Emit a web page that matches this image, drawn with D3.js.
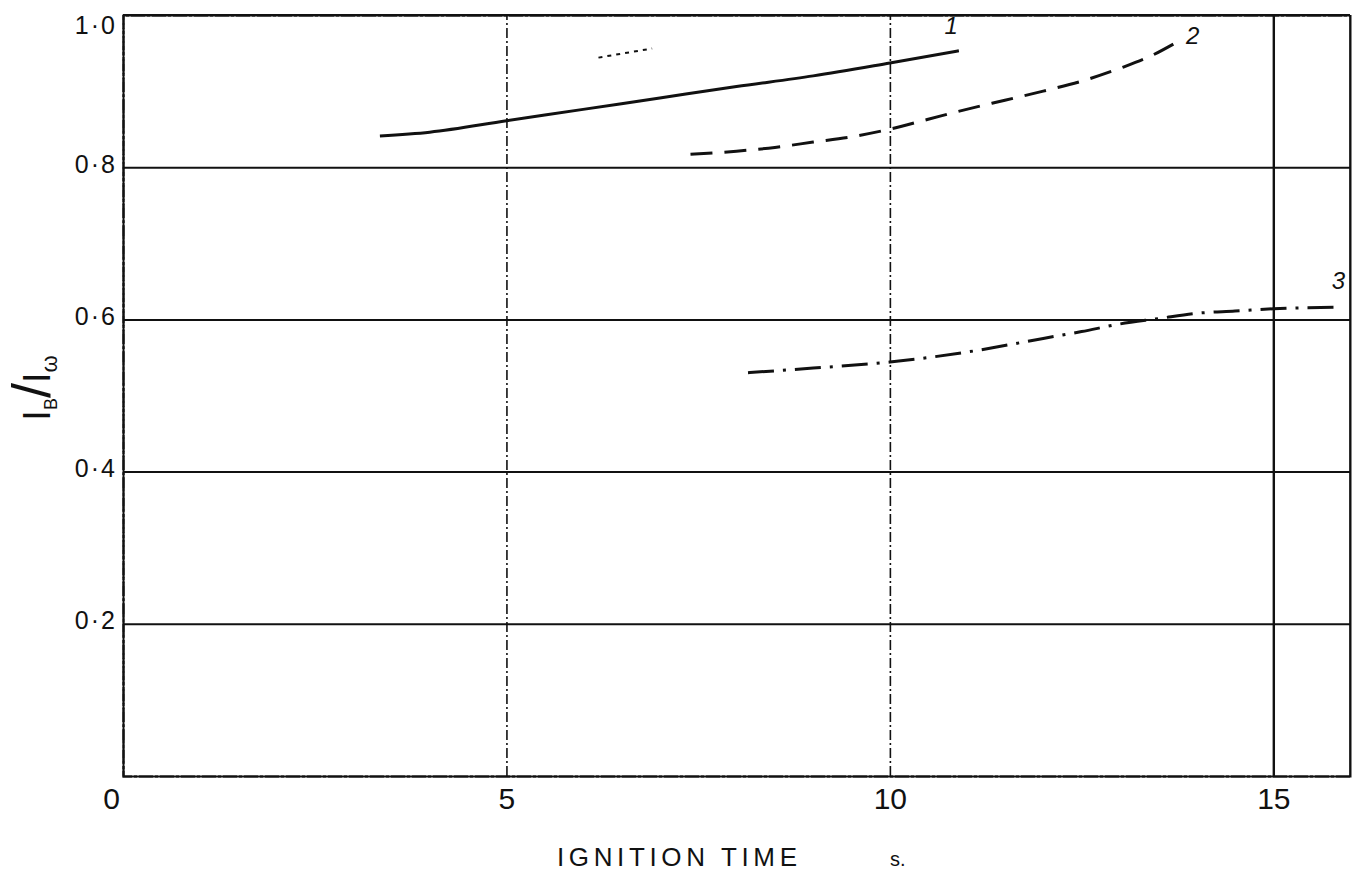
<!DOCTYPE html>
<html>
<head>
<meta charset="utf-8">
<script src="https://cdnjs.cloudflare.com/ajax/libs/d3/7.8.5/d3.min.js"></script>
<style>
  html, body { margin: 0; padding: 0; background: #fff; }
  svg { display: block; }
  text { font-family: "Liberation Sans", "DejaVu Sans", sans-serif; fill: #111; }
</style>
</head>
<body>
<svg id="chart" width="1358" height="877"></svg>
<script>
// values
const xTicks = [0, 5, 10, 15]
const yTicks = [0.2, 0.4, 0.6, 0.8, 1.0]

const curve1 = [[3.35, 0.841], [4, 0.846], [5, 0.861], [6, 0.876], [7, 0.891], [8, 0.906], [9, 0.920], [10, 0.937], [10.9, 0.953]]
const curve2 = [[7.4, 0.817], [8, 0.821], [8.5, 0.826], [9, 0.833], [9.5, 0.840], [10, 0.850], [10.5, 0.863], [11, 0.876], [11.5, 0.888], [12, 0.900], [12.5, 0.913], [13, 0.930], [13.4, 0.946], [13.7, 0.962]]
const curve3 = [[8.15, 0.530], [9, 0.536], [10, 0.544], [11, 0.557], [12, 0.575], [12.5, 0.584], [13, 0.594], [13.5, 0.601], [14, 0.608], [14.5, 0.611], [15, 0.614], [15.9, 0.616]]

const curveNames = ['1', '2', '3']
const curveLabelAt = [[10.8, 0.975], [13.95, 0.962], [15.85, 0.64]]

const margin = { left: 123, top: 15, right: 8, bottom: 101 }
const svg = d3.select('#chart')
const W = 1358 - margin.left - margin.right
const H = 877 - margin.top - margin.bottom

const g = svg.append('g')
    .attr('transform', `translate(${margin.left},${margin.top})`)

const x = d3.scaleLinear().domain([0, 16]).range([0, W])
const y = d3.scaleLinear().domain([0, 1]).range([H, 0])

const fmt = d => d3.format('.1f')(d).replace('.', '·')

// grid + labels
const yAxis = g.append('g')
    .call(d3.axisLeft(y).tickValues(yTicks).tickSize(-W).tickPadding(6).tickFormat(fmt))
yAxis.selectAll('line').attr('stroke', '#111').attr('stroke-width', 2)
yAxis.selectAll('text')
    .attr('font-size', 25)
    .attr('letter-spacing', 2)
    .attr('dy', d => d == 1 ? '0.75em' : '0.2em')
yAxis.select('.domain').attr('stroke', '#111').attr('stroke-width', 2).attr('stroke-dasharray', '14,2,3,2')

const xAxis = g.append('g')
    .attr('transform', `translate(0,${H})`)
    .call(d3.axisBottom(x).tickValues(xTicks).tickSize(-H).tickPadding(12).tickFormat(d3.format('d')))
xAxis.selectAll('line')
    .attr('stroke', '#111')
    .attr('stroke-width', d => d == 15 ? 2.4 : 1.6)
    .attr('stroke-dasharray', d => d == 15 ? null : '10,3,2,3')
xAxis.selectAll('text').attr('font-size', 30).attr('font-weight', 300)
xAxis.selectAll('.tick').filter(d => d == 0).select('text').attr('dx', -12)
xAxis.select('.domain').attr('stroke', '#111').attr('stroke-width', 2)

// frame top / right
g.append('line').attr('x1', 0).attr('x2', W).attr('y1', 0).attr('y2', 0)
    .attr('stroke', '#111').attr('stroke-width', 2)
g.append('line').attr('x1', W).attr('x2', W).attr('y1', 0).attr('y2', H)
    .attr('stroke', '#111').attr('stroke-width', 1.5)

// curves
const line = d3.line()
    .x(d => x(d[0]))
    .y(d => y(d[1]))
    .curve(d3.curveMonotoneX)

const dashes = [null, '22,12', '26,9,3,9']
const series = [curve1, curve2, curve3]

g.selectAll('.curve')
    .data(series)
    .join('path')
    .attr('class', 'curve')
    .attr('d', line)
    .attr('fill', 'none')
    .attr('stroke', '#111')
    .attr('stroke-width', 3)
    .attr('stroke-dasharray', (_, i) => dashes[i])

g.selectAll('.curve-label')
    .data(curveNames)
    .join('text')
    .attr('class', 'curve-label')
    .attr('x', (_, i) => x(curveLabelAt[i][0]))
    .attr('y', (_, i) => y(curveLabelAt[i][1]))
    .attr('font-size', 24)
    .attr('font-style', 'italic')
    .attr('text-anchor', 'middle')
    .text(d => d)

// small stray dotted stroke near the top of the scan
g.append('path')
    .attr('d', line([[6.2, 0.944], [6.9, 0.956]]))
    .attr('fill', 'none')
    .attr('stroke', '#111')
    .attr('stroke-width', 2)
    .attr('stroke-dasharray', '4,5')

// axis titles
svg.append('text')
    .attr('x', 557)
    .attr('y', 866)
    .attr('font-size', 26)
    .attr('textLength', 240)
    .attr('lengthAdjust', 'spacing')
    .text('IGNITION TIME')

svg.append('text')
    .attr('x', 890)
    .attr('y', 866)
    .attr('font-size', 20)
    .text('s.')

const yTitle = svg.append('text')
    .attr('transform', 'translate(50,388) rotate(-90)')
    .attr('text-anchor', 'middle')
    .attr('font-family', '"Liberation Serif", serif')
    .attr('font-size', 38)
yTitle.append('tspan').text('I')
yTitle.append('tspan').attr('font-size', 18).attr('dy', 7).text('B')
yTitle.append('tspan').attr('font-size', 54).attr('dy', -7).text('/')
yTitle.append('tspan').text('I')
yTitle.append('tspan').attr('font-size', 22).attr('dy', 7).text('ω')
</script>
</body>
</html>
